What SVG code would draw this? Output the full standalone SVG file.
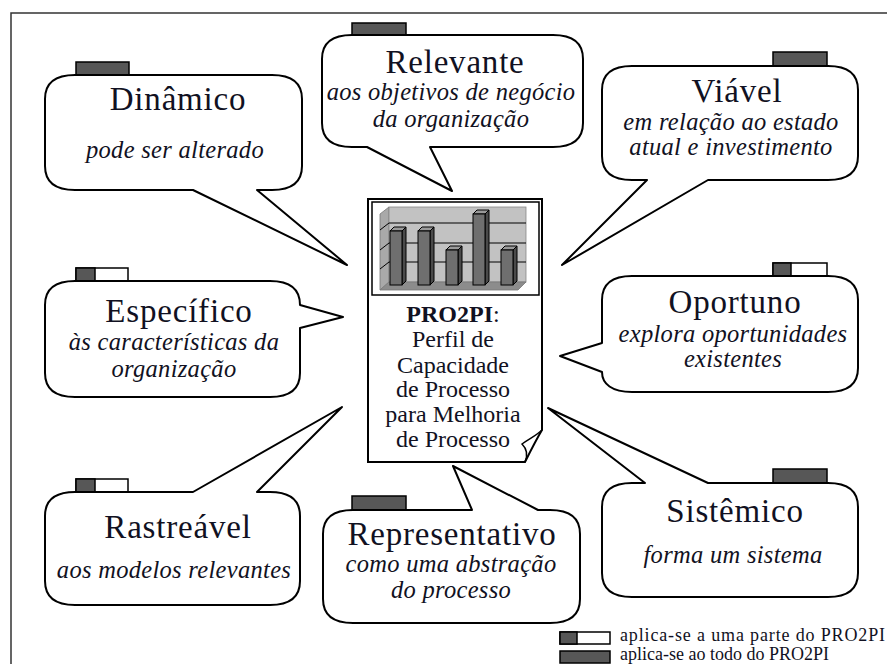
<svg xmlns="http://www.w3.org/2000/svg" width="887" height="664" viewBox="0 0 887 664" font-family="'Liberation Serif', 'DejaVu Serif', serif">
  <style>
    .bubble { fill: #ffffff; stroke: #000000; stroke-width: 2; stroke-linejoin: round; }
    .tab { fill: #575757; stroke: #000000; stroke-width: 1.5; }
    .tabw { fill: #ffffff; stroke: #000000; stroke-width: 1.5; }
    text { font-family: 'Liberation Serif', 'DejaVu Serif', serif; fill: #111122; }
    .title { font-size: 33px; letter-spacing: 0.8px; text-anchor: middle; }
    .sub { font-size: 24.5px; letter-spacing: 0.3px; font-style: italic; text-anchor: middle; }
    .center { font-size: 24px; text-anchor: middle; }
    .legend { font-size: 18px; }
    .frame { fill: none; stroke: #333333; stroke-width: 1.5; }
  </style>

  <rect x="0" y="0" width="887" height="664" fill="#ffffff"/>

  <!-- outer frame -->
  <path class="frame" d="M11,664 V13 H887"/>

  <!-- speech bubbles: outline and tail in a single path -->
  <g id="connectors">
    <!-- tails are part of each bubble outline below -->
  </g>

  <g id="dinamico">
    <rect class="tab" x="76" y="62" width="53" height="13"/>
    <path class="bubble" d="M75,75 H272 C292,75 302,83 302,99 V166 C302,182 292,190 272,190 H257 L347,265 L193,190 H75 C55,190 45,182 45,166 V99 C45,83 55,75 75,75 Z"/>
    <text class="title" x="178" y="110">Dinâmico</text>
    <text class="sub" x="175" y="158">pode ser alterado</text>
  </g>

  <g id="relevante">
    <rect class="tab" x="352" y="23" width="54" height="12"/>
    <path class="bubble" d="M352,35 H553 C573,35 583,43 583,59 V123 C583,139 573,147 553,147 H430 L452,191 L367,147 H352 C332,147 322,139 322,123 V59 C322,43 332,35 352,35 Z"/>
    <text class="title" x="455" y="73">Relevante</text>
    <text class="sub" x="451" y="100">aos objetivos de negócio</text>
    <text class="sub" x="451" y="127">da organização</text>
  </g>

  <g id="viavel">
    <rect class="tab" x="773" y="52" width="54" height="14"/>
    <path class="bubble" d="M632,66 H828 C848,66 858,74 858,90 V156 C858,172 848,180 828,180 H708 L562,265 L647,180 H632 C612,180 602,172 602,156 V90 C602,74 612,66 632,66 Z"/>
    <text class="title" x="737" y="102">Viável</text>
    <text class="sub" x="731" y="130">em relação ao estado</text>
    <text class="sub" x="731" y="155">atual e investimento</text>
  </g>

  <g id="especifico">
    <rect class="tabw" x="76" y="268" width="52" height="13"/>
    <rect class="tab" x="76" y="268" width="19" height="13"/>
    <path class="bubble" d="M75,281 H270 C290,281 300,289 300,305 L343,317 L300,328 V373 C300,389 290,397 270,397 H75 C55,397 45,389 45,373 V305 C45,289 55,281 75,281 Z"/>
    <text class="title" x="179" y="322">Específico</text>
    <text class="sub" x="174" y="350">às características da</text>
    <text class="sub" x="174" y="377">organização</text>
  </g>

  <g id="oportuno">
    <rect class="tabw" x="773" y="263" width="54" height="13"/>
    <rect class="tab" x="773" y="263" width="18" height="13"/>
    <path class="bubble" d="M632,276 H828 C848,276 858,284 858,300 V368 C858,384 848,392 828,392 H632 C612,392 602,384 602,372 L560,356 L602,343 V300 C602,284 612,276 632,276 Z"/>
    <text class="title" x="735" y="313">Oportuno</text>
    <text class="sub" x="733" y="342">explora oportunidades</text>
    <text class="sub" x="733" y="367">existentes</text>
  </g>

  <g id="rastreavel">
    <rect class="tabw" x="76" y="479" width="52" height="13"/>
    <rect class="tab" x="76" y="479" width="19" height="13"/>
    <path class="bubble" d="M75,492 H193 L342,407 L257,492 H270 C290,492 300,500 300,516 V581 C300,597 290,605 270,605 H75 C55,605 45,597 45,581 V516 C45,500 55,492 75,492 Z"/>
    <text class="title" x="178" y="538">Rastreável</text>
    <text class="sub" x="174" y="578">aos modelos relevantes</text>
  </g>

  <g id="representativo">
    <rect class="tab" x="352" y="496" width="54" height="14"/>
    <path class="bubble" d="M353,510 H472 L453,466 L538,510 H550 C570,510 580,518 580,534 V599 C580,615 570,623 550,623 H353 C333,623 323,615 323,599 V534 C323,518 333,510 353,510 Z"/>
    <text class="title" x="452" y="545">Representativo</text>
    <text class="sub" x="451" y="572">como uma abstração</text>
    <text class="sub" x="451" y="598">do processo</text>
  </g>

  <g id="sistemico">
    <rect class="tab" x="773" y="469" width="54" height="14"/>
    <path class="bubble" d="M632,483 H645 L548,408 L708,483 H828 C848,483 858,491 858,507 V573 C858,589 848,597 828,597 H632 C612,597 602,589 602,573 V507 C602,491 612,483 632,483 Z"/>
    <text class="title" x="735" y="522">Sistêmico</text>
    <text class="sub" x="733" y="563">forma um sistema</text>
  </g>

  <!-- central document with bar chart -->
  <g id="pro2pi">
    <path d="M368,199 H542 V430 C536,440 530,452 525,462 H368 Z" fill="#ffffff" stroke="#000000" stroke-width="2"/>
    <path d="M542,430 C536,436 530,438 522,444 C527,449 528,455 525,462" fill="none" stroke="#000000" stroke-width="1.5"/>
    <rect x="372" y="202" width="167" height="93" fill="#ffffff" stroke="#000000" stroke-width="1.5"/>
    <!-- chart walls -->
    <polygon points="380,214 389,207 389,282 380,290" fill="#a9a9a9" stroke="#777777" stroke-width="0.8"/>
    <rect x="389" y="207" width="137" height="75" fill="#c2c2c2" stroke="#888888" stroke-width="0.8"/>
    <polygon points="380,290 389,282 526,282 518,290" fill="#8c8c8c" stroke="#777777" stroke-width="0.8"/>
    <g stroke="#000000" stroke-width="1">
      <line x1="389" y1="223" x2="526" y2="223"/>
      <line x1="389" y1="243" x2="526" y2="243"/>
      <line x1="389" y1="262" x2="526" y2="262"/>
      <line x1="380" y1="230" x2="389" y2="223"/>
      <line x1="380" y1="250" x2="389" y2="243"/>
      <line x1="380" y1="269" x2="389" y2="262"/>
    </g>
    <!-- bars -->
    <g fill="#6f6f6f" stroke="#000000" stroke-width="1">
      <polygon points="390,231 402,231 406,227 394,227" fill="#9a9a9a"/>
      <polygon points="402,231 406,227 406,281 402,285" fill="#4a4a4a"/>
      <rect x="390" y="231" width="12" height="54"/>
      <polygon points="418,231 430,231 434,227 422,227" fill="#9a9a9a"/>
      <polygon points="430,231 434,227 434,281 430,285" fill="#4a4a4a"/>
      <rect x="418" y="231" width="12" height="54"/>
      <polygon points="446,250 458,250 462,246 450,246" fill="#9a9a9a"/>
      <polygon points="458,250 462,246 462,281 458,285" fill="#4a4a4a"/>
      <rect x="446" y="250" width="12" height="35"/>
      <polygon points="473,214 485,214 489,210 477,210" fill="#9a9a9a"/>
      <polygon points="485,214 489,210 489,281 485,285" fill="#4a4a4a"/>
      <rect x="473" y="214" width="12" height="71"/>
      <polygon points="501,250 513,250 517,246 505,246" fill="#9a9a9a"/>
      <polygon points="513,250 517,246 517,281 513,285" fill="#4a4a4a"/>
      <rect x="501" y="250" width="12" height="35"/>
    </g>
    <text class="center" x="453" y="322"><tspan font-weight="bold">PRO2PI</tspan>:</text>
    <text class="center" x="453" y="347">Perfil de</text>
    <text class="center" x="453" y="373">Capacidade</text>
    <text class="center" x="453" y="397">de Processo</text>
    <text class="center" x="453" y="422">para Melhoria</text>
    <text class="center" x="453" y="447">de Processo</text>
  </g>

  <!-- legend -->
  <g id="legend">
    <rect class="tabw" x="560" y="632" width="50" height="12"/>
    <rect class="tab" x="560" y="632" width="17" height="12"/>
    <text class="legend" x="620" y="641" textLength="265">aplica-se a uma parte do PRO2PI</text>
    <rect class="tab" x="560" y="651" width="50" height="12"/>
    <text class="legend" x="620" y="660">aplica-se ao todo do PRO2PI</text>
  </g>
</svg>
